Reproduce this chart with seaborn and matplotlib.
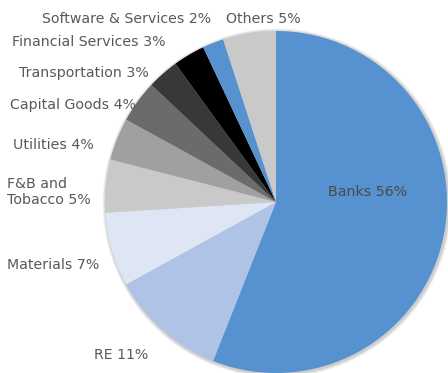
import matplotlib
matplotlib.use("Agg")
import matplotlib.pyplot as plt
from matplotlib.patches import Circle
import seaborn as sns

sns.set_theme(style="white")
plt.rcParams["font.family"] = ["DejaVu Sans"]

# Sector weights (%), clockwise from 12 o'clock
sectors = ["Banks", "RE", "Materials", "F&B and\nTobacco", "Utilities",
           "Capital Goods", "Transportation", "Financial Services",
           "Software & Services", "Others"]
weights = [56, 11, 7, 5, 4, 4, 3, 3, 2, 5]
colors = ["#5592CF", "#AEC3E6", "#DEE6F6", "#C9C9C9", "#A0A0A0",
          "#6B6B6B", "#383838", "#000000", "#5592CF", "#C9C9C9"]

# label anchor positions in pixel space (x, y from top), alignment
label_pos = {
    "Banks": (368, 192, "center"),
    "RE": (121, 355, "center"),
    "Materials": (53, 265, "center"),
    "F&B and\nTobacco": (7, 192, "left"),
    "Utilities": (53, 145, "center"),
    "Capital Goods": (73, 105, "center"),
    "Transportation": (84, 73, "center"),
    "Financial Services": (89, 42, "center"),
    "Software & Services": (127, 19, "center"),
    "Others": (263, 19, "center"),
}

W, H = 448, 373
fig = plt.figure(figsize=(W / 100, H / 100), dpi=100)
ax = fig.add_axes([0, 0, 1, 1])

cx, cy, r = 276, H - 202, 171

# soft drop shadow under the pie
for k in range(4):
    ax.add_patch(Circle((cx + 1.0, cy - 1.0), r + 1.0 + k * 0.8,
                        color="#000000", alpha=0.05, lw=0, zorder=0))

ax.pie(weights, colors=colors, startangle=90, counterclock=False,
       center=(cx, cy), radius=r, frame=True,
       wedgeprops=dict(linewidth=0, zorder=1))
ax.set_xlim(0, W)
ax.set_ylim(0, H)
ax.set_aspect("equal")
ax.axis("off")

for name, w in zip(sectors, weights):
    x, y, ha = label_pos[name]
    col = "#4A4A4A" if name == "Banks" else "#595959"
    ax.text(x, H - y, f"{name} {w}%", ha=ha, va="center",
            fontsize=10.2, color=col, multialignment="left",
            linespacing=1.15, zorder=3)

fig.savefig("out.png", dpi=100)
